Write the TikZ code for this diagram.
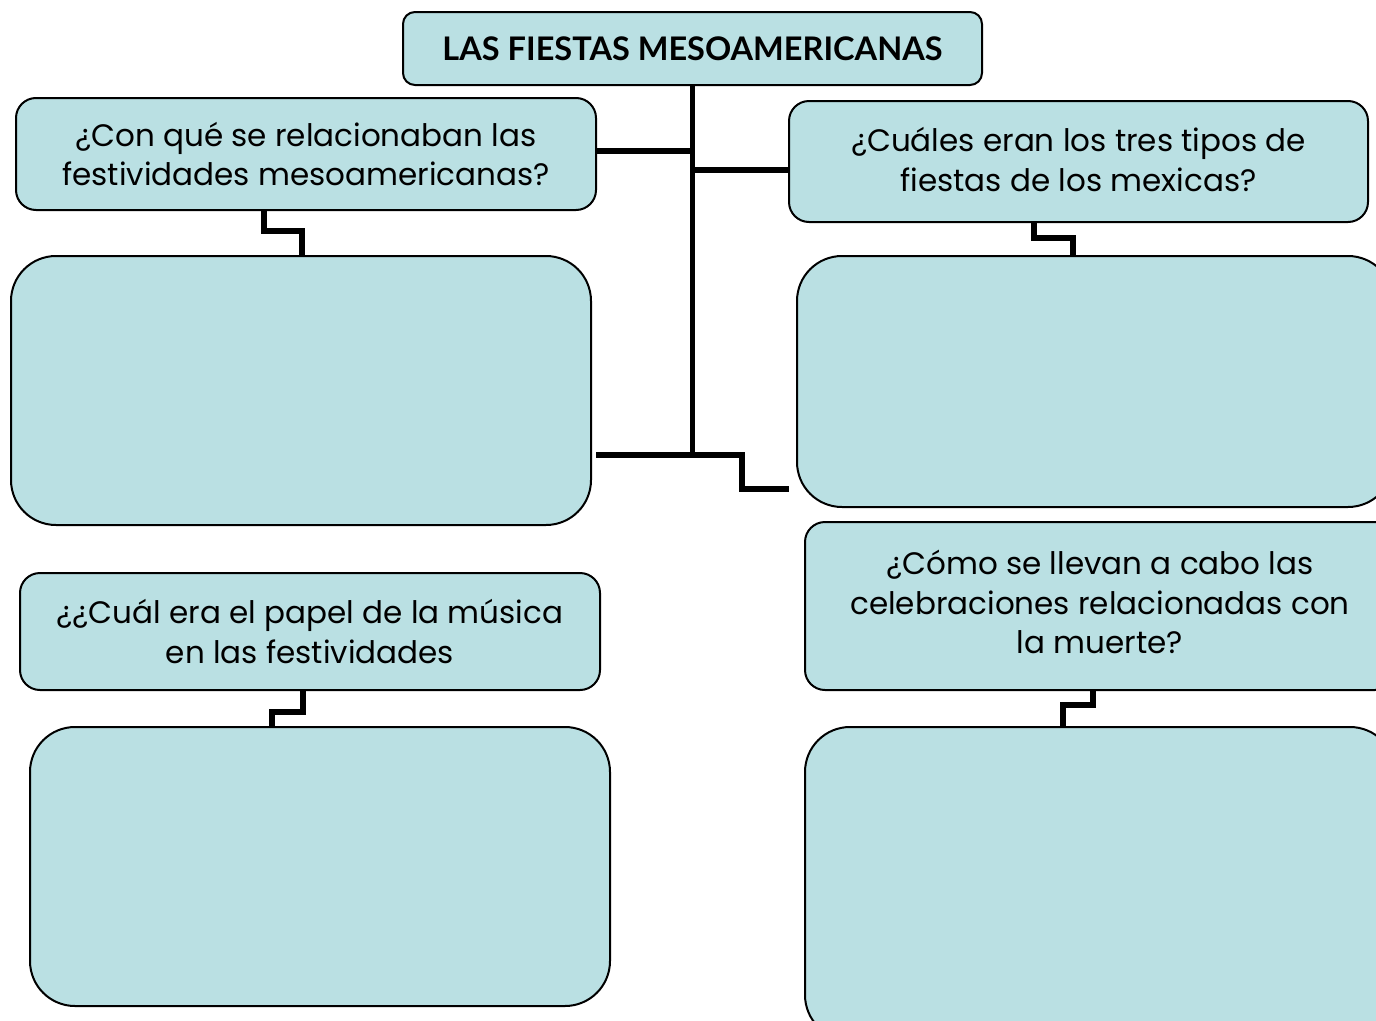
\documentclass[tikz,border=0pt]{standalone}
\usepackage{fontspec}
\setmainfont{Poppins}
\newfontfamily\titlefont{Lato}
\definecolor{boxfill}{RGB}{186,224,227}
\begin{document}
\begin{tikzpicture}[x=1pt,y=-1pt,
  qbox/.style={draw=black,fill=boxfill,line width=2pt,rounded corners=20pt,align=center,inner sep=0pt,font=\fontsize{31}{39.5}\selectfont},
  abox/.style={draw=black,fill=boxfill,line width=2pt,rounded corners=45pt,inner sep=0pt},
  conn/.style={line width=5.5pt}]
\useasboundingbox (0,0) rectangle (1376,1020);
\clip (0,0) rectangle (1376,1020);
\fill[white] (0,0) rectangle (1376,1020);
% boxes
\node[qbox,minimum width=579pt,minimum height=73pt,rounded corners=12pt,font=\titlefont\bfseries\fontsize{32.5}{36}\selectfont] (title) at (692.5,48.5) {LAS FIESTAS MESOAMERICANAS};
\node[qbox,minimum width=580pt,minimum height=112pt] (q1) at (306,154) {¿Con qué se relacionaban las\\festividades mesoamericanas?};
\node[abox,minimum width=580pt,minimum height=269pt] (a1) at (301,390.5) {};
\node[qbox,minimum width=579pt,minimum height=121pt,text depth=4pt] (q2) at (1078.5,161.5) {¿Cuáles eran los tres tipos de\\fiestas de los mexicas?};
\node[abox,minimum width=596pt,minimum height=251pt] (a2) at (1095,381.5) {};
\node[qbox,minimum width=580pt,minimum height=117pt] (q3) at (310,631.5) {¿¿Cuál era el papel de la música\\en las festividades};
\node[abox,minimum width=580pt,minimum height=279pt] (a3) at (320,866.5) {};
\node[qbox,minimum width=590pt,minimum height=168pt,text depth=8pt] (q4) at (1100,606) {¿Cómo se llevan a cabo las\\celebraciones relacionadas con\\la muerte?};
\node[abox,minimum width=590pt,minimum height=313pt] (a4) at (1100,883.5) {};
% connectors
\coordinate (tb) at (692.5,455);
\draw[conn] (title.south) -- (tb);
\draw[conn] (q1.east |- 0,151) -- (692.5,151);
\draw[conn] (692.5,170) -- (q2.west |- 0,170);
\coordinate (b1) at (742,455);
\coordinate (b2) at (742,489);
\coordinate (b3) at (789,489);
\draw[conn] (596,455) -- (tb) -- (b1) -- (b2) -- (b3);
\coordinate (e1a) at (264,231);
\coordinate (e1b) at (302,231);
\draw[conn] (q1.south -| e1a) -- (e1a) -- (e1b) -- (a1.north -| e1b);
\coordinate (e2a) at (1034,238);
\coordinate (e2b) at (1073,238);
\draw[conn] (q2.south -| e2a) -- (e2a) -- (e2b) -- (a2.north -| e2b);
\coordinate (e3a) at (303,712);
\coordinate (e3b) at (272,712);
\draw[conn] (q3.south -| e3a) -- (e3a) -- (e3b) -- (a3.north -| e3b);
\coordinate (e4a) at (1093,705);
\coordinate (e4b) at (1063,705);
\draw[conn] (q4.south -| e4a) -- (e4a) -- (e4b) -- (a4.north -| e4b);
\end{tikzpicture}
\end{document}
